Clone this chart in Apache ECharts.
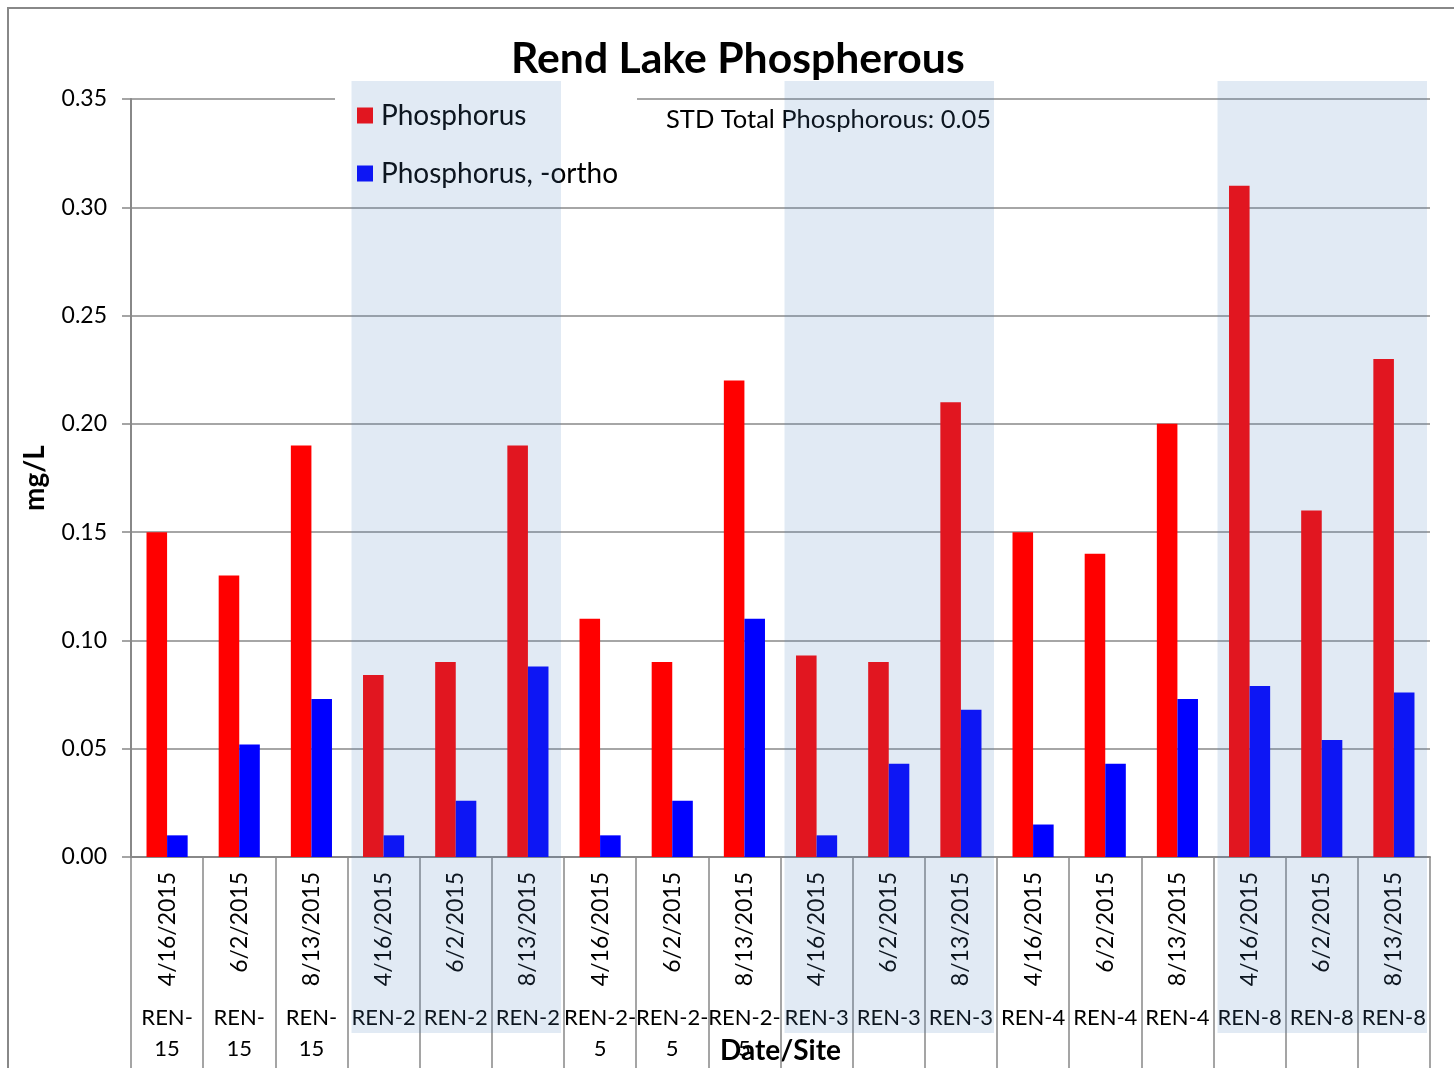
<!DOCTYPE html>
<html>
<head>
<meta charset="utf-8">
<title>Rend Lake Phospherous</title>
<script src="https://cdn.jsdelivr.net/npm/echarts@6/dist/echarts.min.js"></script>
<style>
  html, body { margin: 0; padding: 0; background: #fff; }
  #main { width: 1454px; height: 1068px; }
</style>
</head>
<body>
<div id="main"></div>
<script>
// data
var sites = ['REN-15', 'REN-15', 'REN-15', 'REN-2', 'REN-2', 'REN-2', 'REN-2-5', 'REN-2-5', 'REN-2-5',
    'REN-3', 'REN-3', 'REN-3', 'REN-4', 'REN-4', 'REN-4', 'REN-8', 'REN-8', 'REN-8']
var dates = ['4/16/2015', '6/2/2015', '8/13/2015', '4/16/2015', '6/2/2015', '8/13/2015', '4/16/2015', '6/2/2015', '8/13/2015',
    '4/16/2015', '6/2/2015', '8/13/2015', '4/16/2015', '6/2/2015', '8/13/2015', '4/16/2015', '6/2/2015', '8/13/2015']
var phosphorus = [0.15, 0.13, 0.19, 0.084, 0.09, 0.19, 0.11, 0.09, 0.22, 0.093, 0.09, 0.21, 0.15, 0.14, 0.2, 0.31, 0.16, 0.23]
var ortho = [0.01, 0.052, 0.073, 0.01, 0.026, 0.088, 0.01, 0.026, 0.11, 0.01, 0.043, 0.068, 0.015, 0.043, 0.073, 0.079, 0.054, 0.076]
var shadedSites = ['REN-2', 'REN-3', 'REN-8']
var yTicks = { min: 0, max: 0.35, step: 0.05 }

var FONT = 'Lato'
var GRAY = '#888'

var chart = echarts.init(document.getElementById('main'))

var option = {
    animation: false,
    backgroundColor: '#fff',
    title: {
        text: 'Rend Lake Phospherous',
        left: 506,
        top: 33,
        textStyle: { fontFamily: FONT, fontSize: 42.7, fontWeight: 'bold', color: '#000' },
    },
    legend: {
        orient: 'vertical',
        left: 335,
        top: 88,
        padding: [12, 19, 12, 22],
        backgroundColor: '#fff',
        itemWidth: 16,
        itemHeight: 16,
        itemGap: 27,
        icon: 'rect',
        textStyle: { fontFamily: FONT, fontSize: 28, color: '#000', lineHeight: 31, padding: [0, 0, 0, 3] },
        data: ['Phosphorus', 'Phosphorus, -ortho'],
    },
    grid: {
        left: 131,
        right: 24,
        top: 99,
        bottom: 211,
        outerBoundsMode: 'none',
        containLabel: false,
    },
    xAxis: [
        {
            type: 'category',
            data: dates,
            name: 'Date/Site',
            nameLocation: 'middle',
            nameGap: 180,
            nameTextStyle: { fontFamily: FONT, fontSize: 28, fontWeight: 'bold', color: '#000' },
            axisLine: { lineStyle: { color: GRAY, width: 2 } },
            axisTick: { show: true, interval: 0, length: 215, lineStyle: { color: GRAY, width: 1.5 } },
            axisLabel: {
                interval: 0,
                rotate: 90,
                margin: 15,
                fontFamily: FONT,
                fontSize: 23,
                color: '#000',
            },
        },
        {
            // second row of labels: site names
            type: 'category',
            position: 'bottom',
            offset: 137,
            data: sites,
            axisLine: { show: false },
            axisTick: { show: false },
            axisLabel: {
                interval: 0,
                margin: 8,
                fontFamily: FONT,
                fontSize: 22,
                lineHeight: 31,
                color: '#000',
                formatter: function(v) {
                    // wrap long names after the last dash, like the original
                    if (v.length > 5) {
                        var k = v.lastIndexOf('-')
                        return v.slice(0, k + 1) + '\n' + v.slice(k + 1)
                    }
                    return v
                },
            },
        },
    ],
    yAxis: {
        type: 'value',
        min: yTicks.min,
        max: yTicks.max,
        interval: yTicks.step,
        name: 'mg/L',
        nameLocation: 'middle',
        nameGap: 82,
        nameTextStyle: { fontFamily: FONT, fontSize: 28, fontWeight: 'bold', color: '#000' },
        axisLine: { show: true, lineStyle: { color: GRAY, width: 2 } },
        axisTick: { show: true, length: 9, lineStyle: { color: GRAY, width: 1.5 } },
        axisLabel: {
            margin: 24,
            fontFamily: FONT,
            fontSize: 23,
            color: '#000',
            formatter: function(v) {
                return v.toFixed(2)
            },
        },
        splitLine: { lineStyle: { color: GRAY, width: 1.5 } },
    },
    series: [
        {
            name: 'Phosphorus',
            type: 'bar',
            data: phosphorus,
            barCategoryGap: '43%',
            barGap: '0%',
            itemStyle: { color: '#ff0000' },
        },
        {
            name: 'Phosphorus, -ortho',
            type: 'bar',
            data: ortho,
            barCategoryGap: '43%',
            barGap: '0%',
            itemStyle: { color: '#0000ff' },
        },
    ],
}
chart.setOption(option)

// shaded site groups: translucent overlay boxes laid over the columns of those sites
function shadeGraphics() {
    var step = chart.convertToPixel({ xAxisIndex: 0 }, 1) - chart.convertToPixel({ xAxisIndex: 0 }, 0)
    var yTop = chart.convertToPixel({ yAxisIndex: 0 }, yTicks.max)
    var yBase = chart.convertToPixel({ yAxisIndex: 0 }, 0)
    var out = []
    shadedSites.forEach(function(s) {
        var first = sites.indexOf(s)
        var last = sites.lastIndexOf(s)
        var x0 = chart.convertToPixel({ xAxisIndex: 0 }, first) - step / 2 + 4
        var x1 = chart.convertToPixel({ xAxisIndex: 0 }, last) + step / 2 - 3
        out.push({
            type: 'rect',
            z: 100,
            silent: true,
            shape: { x: x0, y: yTop - 18, width: x1 - x0, height: yBase + 176 - (yTop - 18) },
            style: { fill: 'rgba(79,129,189,0.17)' },
        })
    })
    return out
}

var graphics = shadeGraphics()
graphics.push({
    type: 'text',
    z: 50,
    left: 666,
    top: 107,
    style: { text: 'STD Total Phosphorous: 0.05', fontFamily: FONT, fontSize: 25.5, fill: '#000' },
})
graphics.push({
    type: 'rect',
    z: 120,
    silent: true,
    shape: { x: 8, y: 8, width: 1500, height: 1100 },
    style: { fill: 'none', stroke: GRAY, lineWidth: 2 },
})
chart.setOption({ graphic: graphics })
</script>
</body>
</html>
